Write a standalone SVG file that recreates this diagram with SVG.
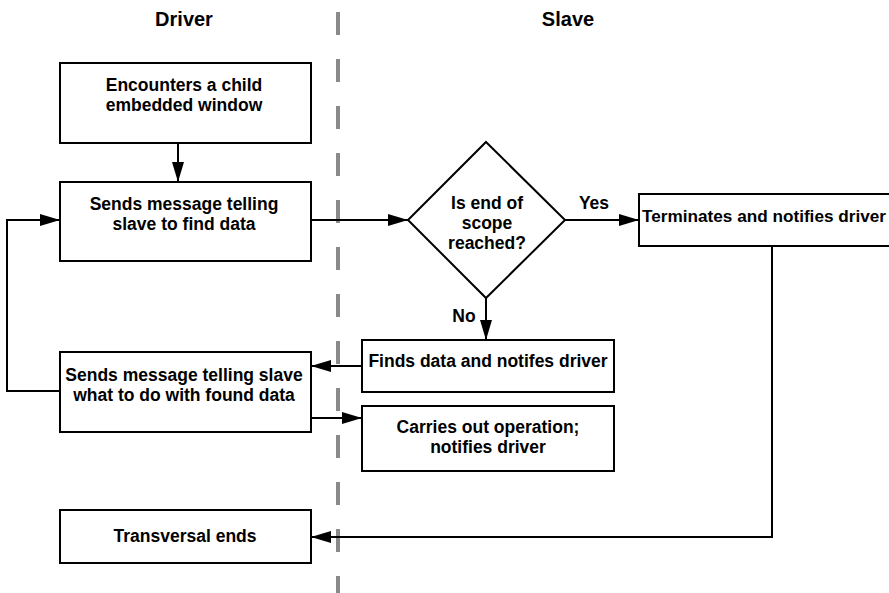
<svg xmlns="http://www.w3.org/2000/svg" width="889" height="593" viewBox="0 0 889 593">
<style>
.box{fill:#fff;stroke:#000;stroke-width:2}
.t{font-family:"Liberation Sans",Arial,sans-serif;font-weight:bold;font-size:17.5px;fill:#000;text-anchor:middle}
.h{font-family:"Liberation Sans",Arial,sans-serif;font-weight:bold;font-size:20px;fill:#000;text-anchor:middle}
.c{fill:none;stroke:#000;stroke-width:2}
</style>
<defs>
<marker id="ah" markerUnits="userSpaceOnUse" markerWidth="20" markerHeight="14" viewBox="0 0 20 14" refX="20" refY="7" orient="auto">
<path d="M0,1 L20,7 L0,13 Z" fill="#000"/>
</marker>
</defs>
<rect width="889" height="593" fill="#fff"/>
<line id="divider" x1="338" y1="12" x2="338" y2="593" stroke="#8a8a8a" stroke-width="4" stroke-dasharray="23 24"/>
<text class="h" x="184" y="26">Driver</text>
<text class="h" x="568" y="26">Slave</text>
<g id="connectors">
<line class="c" x1="178" y1="143" x2="178" y2="182" marker-end="url(#ah)"/>
<line class="c" x1="311" y1="220" x2="408" y2="220" marker-end="url(#ah)"/>
<line class="c" x1="565" y1="220" x2="639" y2="220" marker-end="url(#ah)"/>
<line class="c" x1="486" y1="298" x2="486" y2="340" marker-end="url(#ah)"/>
<line class="c" x1="362" y1="366" x2="311" y2="366" marker-end="url(#ah)"/>
<polyline class="c" points="60,391 7,391 7,220 60,220" marker-end="url(#ah)"/>
<line class="c" x1="311" y1="418" x2="362" y2="418" marker-end="url(#ah)"/>
<polyline class="c" points="772,246 772,537 311,537" marker-end="url(#ah)"/>
<text class="t" x="594" y="209">Yes</text>
<text class="t" x="464" y="322">No</text>
</g>
<g id="encounters">
<rect class="box" x="60" y="63" width="251" height="80"/>
<text class="t" x="184" y="91">Encounters a child</text>
<text class="t" x="184" y="111">embedded window</text>
</g>
<g id="sends-find">
<rect class="box" x="60" y="182" width="251" height="79"/>
<text class="t" x="184" y="210">Sends message telling</text>
<text class="t" x="184" y="230">slave to find data</text>
</g>
<g id="decision">
<polygon class="box" points="486,142 565,220 486,298 408,220"/>
<text class="t" x="487" y="209">Is end of</text>
<text class="t" x="487" y="229">scope</text>
<text class="t" x="487" y="249">reached?</text>
</g>
<g id="terminates">
<rect class="box" x="639" y="194" width="260" height="52"/>
<text class="t" x="642" y="222" style="text-anchor:start;font-size:17px" textLength="244" lengthAdjust="spacingAndGlyphs">Terminates and notifies driver</text>
</g>
<g id="finds">
<rect class="box" x="362" y="340" width="252" height="52"/>
<text class="t" x="488" y="367">Finds data and notifes driver</text>
</g>
<g id="sends-what">
<rect class="box" x="60" y="352" width="251" height="80"/>
<text class="t" x="184" y="381">Sends message telling slave</text>
<text class="t" x="184" y="401">what to do with found data</text>
</g>
<g id="carries">
<rect class="box" x="362" y="406" width="252" height="65"/>
<text class="t" x="488" y="433">Carries out operation;</text>
<text class="t" x="488" y="453">notifies driver</text>
</g>
<g id="transversal">
<rect class="box" x="60" y="510" width="251" height="53"/>
<text class="t" x="185" y="542">Transversal ends</text>
</g>
</svg>
